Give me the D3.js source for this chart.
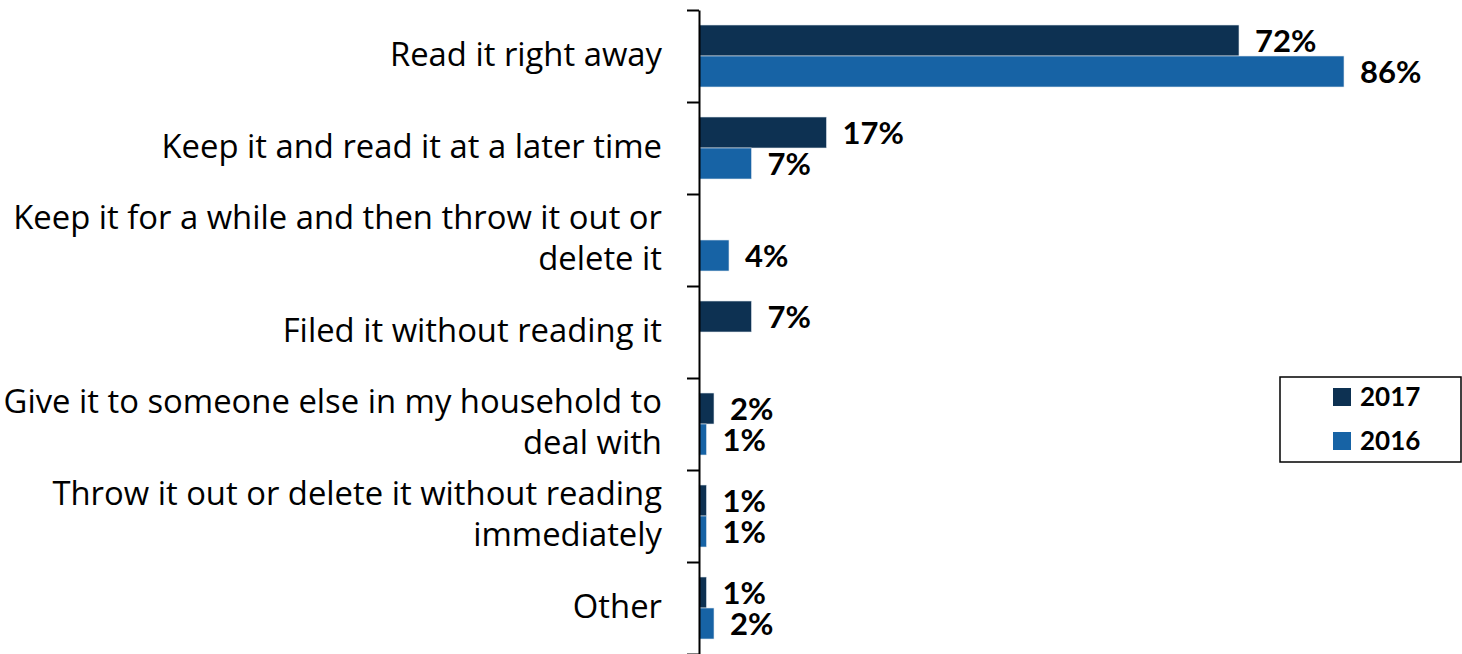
<!DOCTYPE html>
<html>
<head>
<meta charset="utf-8">
<script src="https://cdn.jsdelivr.net/npm/d3@7"></script>
<style>
  html, body { margin: 0; padding: 0; background: #fff; }
  svg { display: block; }
  text { font-family: Lato, "Open Sans", "Noto Sans", sans-serif; fill: #000; }
  text.cat { font-family: "Open Sans", "Noto Sans", sans-serif; }
</style>
</head>
<body>
<svg id="chart" width="1462" height="654"></svg>
<script>
// Response categories, each broken into the lines it is printed on
const categories = [
  "Read it right away",
  "Keep it and read it at a later time",
  "Keep it for a while and then throw it out or delete it",
  "Filed it without reading it",
  "Give it to someone else in my household to deal with",
  "Throw it out or delete it without reading immediately",
  "Other"
];
const categoryLines = [
  ["Read it right away"],
  ["Keep it and read it at a later time"],
  ["Keep it for a while and then throw it out or", "delete it"],
  ["Filed it without reading it"],
  ["Give it to someone else in my household to", "deal with"],
  ["Throw it out or delete it without reading", "immediately"],
  ["Other"]
];
const seriesNames = ["2017", "2016"];
const values2017 = [72, 17, null, 7, 2, 1, 1];
const values2016 = [86, 7, 4, null, 1, 1, 2];
const seriesColors = ["#0d3152", "#1763a5"];

const svg = d3.select("#chart");

// Category bands run top to bottom along the vertical axis
const y = d3.scaleBand().domain(categories).range([10, 654]).paddingInner(0).paddingOuter(0);
const ySeries = d3.scaleBand().domain(seriesNames).range([0, y.bandwidth()]).paddingInner(0).paddingOuter(0.484);
const x = d3.scaleLinear().domain([0, 100]).range([699, 1449]);

const rows = [];
categories.forEach((c, i) => {
  rows.push({ cat: c, series: "2017", value: values2017[i] });
  rows.push({ cat: c, series: "2016", value: values2016[i] });
});
const present = rows.filter(d => d.value != null);
const color = d3.scaleOrdinal().domain(seriesNames).range(seriesColors);

// Bars
svg.append("g").selectAll("rect")
  .data(present)
  .join("rect")
  .attr("x", x(0))
  .attr("y", d => y(d.cat) + ySeries(d.series))
  .attr("width", d => x(d.value) - x(0))
  .attr("height", ySeries.bandwidth())
  .attr("fill", d => color(d.series))
  .attr("stroke", "#dfe6ee")
  .attr("stroke-width", 0.6);

// Value labels
svg.append("g").selectAll("text")
  .data(present)
  .join("text")
  .attr("x", d => x(d.value) + 16)
  .attr("y", d => y(d.cat) + ySeries(d.series) + ySeries.bandwidth() / 2)
  .attr("dy", "0.36em")
  .attr("font-size", 31)
  .attr("font-weight", 700)
  .text(d => d.value + "%");

// Vertical axis with tick marks on the category boundaries
const boundary = d3.scaleLinear().domain([0, categories.length]).range(y.range());
const axis = svg.append("g")
  .attr("transform", `translate(${x(0)},0)`)
  .call(d3.axisLeft(boundary).ticks(categories.length).tickSize(12).tickSizeOuter(0).tickFormat(""));
axis.selectAll("path, line").attr("stroke", "#000").attr("stroke-width", 2);

// Category labels, right-aligned against the axis
const lineHeight = 41;
const labels = svg.append("g").selectAll("text")
  .data(categories)
  .join("text")
  .attr("class", "cat")
  .attr("text-anchor", "end")
  .attr("font-size", 32.8)
  .attr("transform", (c, i) => {
    const n = categoryLines[i].length;
    const cy = y(c) + y.bandwidth() / 2 - (n - 1) * lineHeight / 2 - 2;
    return `translate(662,${cy})`;
  });
labels.selectAll("tspan")
  .data((c, i) => categoryLines[i])
  .join("tspan")
  .attr("x", 0)
  .attr("y", (d, j) => j * lineHeight)
  .attr("dy", "0.36em")
  .text(d => d);

// Legend
const legend = svg.append("g").attr("transform", "translate(1280,377)");
legend.append("rect")
  .attr("width", 181).attr("height", 85)
  .attr("fill", "#fff").attr("stroke", "#000").attr("stroke-width", 1.5);
const items = legend.selectAll("g.item")
  .data(seriesNames)
  .join("g")
  .attr("class", "item")
  .attr("transform", (d, i) => `translate(53,${11 + i * 44})`);
items.append("rect")
  .attr("width", 18).attr("height", 18)
  .attr("fill", d => color(d));
items.append("text")
  .attr("x", 27).attr("y", 9).attr("dy", "0.36em")
  .attr("font-size", 26).attr("font-weight", 700)
  .text(d => d);
</script>
</body>
</html>
